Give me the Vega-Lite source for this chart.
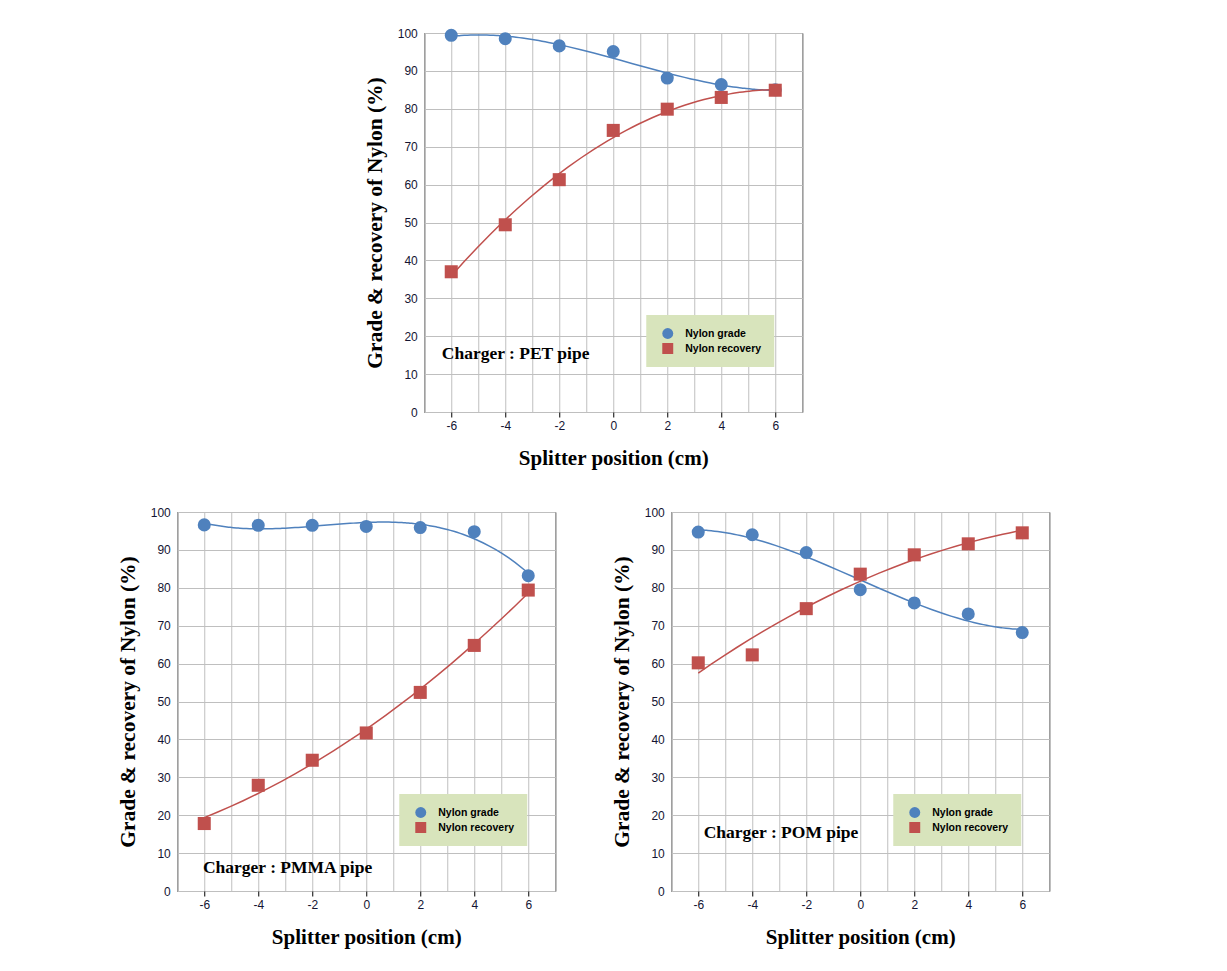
{
  "$schema": "https://vega.github.io/schema/vega-lite/v6.json",
  "padding": {"left": 116, "top": 26, "right": 10, "bottom": 10},
  "background": "white",
  "config": {
    "view": {"stroke": "black", "strokeWidth": 1},
    "axis": {"gridColor": "#bfbfbf", "gridWidth": 1, "domain": false, "labelFont": "Liberation Sans", "labelFontSize": 12, "labelColor": "#141432", "titleFont": "Liberation Serif", "titleFontWeight": "bold", "titleColor": "black"},
    "axisX": {"titleFontSize": 21},
    "axisY": {"titleFontSize": 21.5},
    "legend": {"orient": "none", "legendX": 222, "legendY": 282, "fillColor": "#d8e4bc", "padding": 13, "symbolOffset": 3, "symbolSize": 120, "symbolStrokeWidth": 0, "labelFont": "Liberation Sans", "labelFontSize": 10.5, "labelFontWeight": "bold", "labelColor": "black", "rowPadding": 4, "labelOffset": 12, "title": null}
  },
  "datasets": {
    "all": [
      {"panel": "PET", "series": "Nylon grade", "position": -6, "value": 99.4},
      {"panel": "PET", "series": "Nylon grade", "position": -4, "value": 98.5},
      {"panel": "PET", "series": "Nylon grade", "position": -2, "value": 96.6},
      {"panel": "PET", "series": "Nylon grade", "position": 0, "value": 95.1},
      {"panel": "PET", "series": "Nylon grade", "position": 2, "value": 88.1},
      {"panel": "PET", "series": "Nylon grade", "position": 4, "value": 86.4},
      {"panel": "PET", "series": "Nylon grade", "position": 6, "value": 85.0},
      {"panel": "PET", "series": "Nylon recovery", "position": -6, "value": 37.0},
      {"panel": "PET", "series": "Nylon recovery", "position": -4, "value": 49.4},
      {"panel": "PET", "series": "Nylon recovery", "position": -2, "value": 61.3},
      {"panel": "PET", "series": "Nylon recovery", "position": 0, "value": 74.3},
      {"panel": "PET", "series": "Nylon recovery", "position": 2, "value": 79.9},
      {"panel": "PET", "series": "Nylon recovery", "position": 4, "value": 83.0},
      {"panel": "PET", "series": "Nylon recovery", "position": 6, "value": 84.9},
      {"panel": "PMMA", "series": "Nylon grade", "position": -6, "value": 96.6},
      {"panel": "PMMA", "series": "Nylon grade", "position": -4, "value": 96.5},
      {"panel": "PMMA", "series": "Nylon grade", "position": -2, "value": 96.5},
      {"panel": "PMMA", "series": "Nylon grade", "position": 0, "value": 96.2},
      {"panel": "PMMA", "series": "Nylon grade", "position": 2, "value": 95.9},
      {"panel": "PMMA", "series": "Nylon grade", "position": 4, "value": 94.8},
      {"panel": "PMMA", "series": "Nylon grade", "position": 6, "value": 83.2},
      {"panel": "PMMA", "series": "Nylon recovery", "position": -6, "value": 17.8},
      {"panel": "PMMA", "series": "Nylon recovery", "position": -4, "value": 27.9},
      {"panel": "PMMA", "series": "Nylon recovery", "position": -2, "value": 34.5},
      {"panel": "PMMA", "series": "Nylon recovery", "position": 0, "value": 41.7},
      {"panel": "PMMA", "series": "Nylon recovery", "position": 2, "value": 52.4},
      {"panel": "PMMA", "series": "Nylon recovery", "position": 4, "value": 64.8},
      {"panel": "PMMA", "series": "Nylon recovery", "position": 6, "value": 79.4},
      {"panel": "POM", "series": "Nylon grade", "position": -6, "value": 94.7},
      {"panel": "POM", "series": "Nylon grade", "position": -4, "value": 94.0},
      {"panel": "POM", "series": "Nylon grade", "position": -2, "value": 89.3},
      {"panel": "POM", "series": "Nylon grade", "position": 0, "value": 79.5},
      {"panel": "POM", "series": "Nylon grade", "position": 2, "value": 76.0},
      {"panel": "POM", "series": "Nylon grade", "position": 4, "value": 73.1},
      {"panel": "POM", "series": "Nylon grade", "position": 6, "value": 68.2},
      {"panel": "POM", "series": "Nylon recovery", "position": -6, "value": 60.2},
      {"panel": "POM", "series": "Nylon recovery", "position": -4, "value": 62.3},
      {"panel": "POM", "series": "Nylon recovery", "position": -2, "value": 74.5},
      {"panel": "POM", "series": "Nylon recovery", "position": 0, "value": 83.6},
      {"panel": "POM", "series": "Nylon recovery", "position": 2, "value": 88.7},
      {"panel": "POM", "series": "Nylon recovery", "position": 4, "value": 91.6},
      {"panel": "POM", "series": "Nylon recovery", "position": 6, "value": 94.5}
    ],
    "notes": [
      {"panel": "PET", "label": "Charger : PET pipe", "position": -6.35, "value": 15.4},
      {"panel": "PMMA", "label": "Charger : PMMA pipe", "position": -6.05, "value": 6.0},
      {"panel": "POM", "label": "Charger : POM pipe", "position": -5.8, "value": 15.3}
    ]
  },
  "resolve": {"scale": {"color": "independent", "shape": "independent"}, "legend": {"color": "independent", "shape": "independent"}},
  "center": true,
  "spacing": 36,
  "vconcat": [
    {
      "width": 378, "height": 379,
      "encoding": {
        "x": {"field": "position", "type": "quantitative", "scale": {"domain": [-7, 7], "nice": false}, "axis": {"title": "Splitter position (cm)", "titlePadding": 16, "values": [-7,-6,-5,-4,-3,-2,-1,0,1,2,3,4,5,6,7], "labelExpr": "datum.value % 2 === 0 ? toString(datum.value) : ''", "tickOpacity": {"condition": {"test": "datum.value % 2 !== 0", "value": 0}, "value": 1}, "tickColor": "black", "tickSize": 5, "labelPadding": 3}},
        "y": {"field": "value", "type": "quantitative", "scale": {"domain": [0, 100], "nice": false}, "axis": {"title": "Grade & recovery of Nylon (%)", "titlePadding": 11, "values": [0,10,20,30,40,50,60,70,80,90,100], "ticks": false, "labelPadding": 7}}
      },
      "layer": [
        {"data": {"name": "all"}, "transform": [{"filter": "datum.panel === 'PET' && datum.series === 'Nylon grade'"}, {"regression": "value", "on": "position", "method": "poly", "order": 3, "extent": [-6, 6]}], "mark": {"type": "line", "color": "#4f81bd", "strokeWidth": 1.5}},
        {"data": {"name": "all"}, "transform": [{"filter": "datum.panel === 'PET' && datum.series === 'Nylon recovery'"}, {"regression": "value", "on": "position", "method": "poly", "order": 2, "extent": [-6, 6]}], "mark": {"type": "line", "color": "#c0504d", "strokeWidth": 1.5}},
        {"data": {"name": "all"}, "transform": [{"filter": "datum.panel === 'PET'"}], "mark": {"type": "point", "filled": true, "opacity": 1, "size": 170},
         "encoding": {
           "color": {"field": "series", "type": "nominal", "scale": {"domain": ["Nylon grade", "Nylon recovery"], "range": ["#4f81bd", "#c0504d"]}},
           "shape": {"field": "series", "type": "nominal", "scale": {"domain": ["Nylon grade", "Nylon recovery"], "range": ["circle", "square"]}}
         }},
        {"data": {"name": "notes"}, "transform": [{"filter": "datum.panel === 'PET'"}], "mark": {"type": "text", "font": "Liberation Serif", "fontWeight": "bold", "fontSize": 17.5, "align": "left", "baseline": "middle", "color": "black"},
         "encoding": {"text": {"field": "label", "type": "nominal"}}}
      ]
    },
    {
      "spacing": 54,
      "resolve": {"scale": {"color": "independent", "shape": "independent"}, "legend": {"color": "independent", "shape": "independent"}},
      "hconcat": [
        {
          "width": 378, "height": 379,
          "encoding": {
            "x": {"field": "position", "type": "quantitative", "scale": {"domain": [-7, 7], "nice": false}, "axis": {"title": "Splitter position (cm)", "titlePadding": 16, "values": [-7,-6,-5,-4,-3,-2,-1,0,1,2,3,4,5,6,7], "labelExpr": "datum.value % 2 === 0 ? toString(datum.value) : ''", "tickOpacity": {"condition": {"test": "datum.value % 2 !== 0", "value": 0}, "value": 1}, "tickColor": "black", "tickSize": 5, "labelPadding": 3}},
            "y": {"field": "value", "type": "quantitative", "scale": {"domain": [0, 100], "nice": false}, "axis": {"title": "Grade & recovery of Nylon (%)", "titlePadding": 11, "values": [0,10,20,30,40,50,60,70,80,90,100], "ticks": false, "labelPadding": 7}}
          },
          "layer": [
            {"data": {"name": "all"}, "transform": [{"filter": "datum.panel === 'PMMA' && datum.series === 'Nylon grade'"}, {"regression": "value", "on": "position", "method": "poly", "order": 3, "extent": [-6, 6]}], "mark": {"type": "line", "color": "#4f81bd", "strokeWidth": 1.5}},
            {"data": {"name": "all"}, "transform": [{"filter": "datum.panel === 'PMMA' && datum.series === 'Nylon recovery'"}, {"regression": "value", "on": "position", "method": "poly", "order": 2, "extent": [-6, 6]}], "mark": {"type": "line", "color": "#c0504d", "strokeWidth": 1.5}},
            {"data": {"name": "all"}, "transform": [{"filter": "datum.panel === 'PMMA'"}], "mark": {"type": "point", "filled": true, "opacity": 1, "size": 170},
             "encoding": {
               "color": {"field": "series", "type": "nominal", "scale": {"domain": ["Nylon grade", "Nylon recovery"], "range": ["#4f81bd", "#c0504d"]}},
               "shape": {"field": "series", "type": "nominal", "scale": {"domain": ["Nylon grade", "Nylon recovery"], "range": ["circle", "square"]}}
             }},
            {"data": {"name": "notes"}, "transform": [{"filter": "datum.panel === 'PMMA'"}], "mark": {"type": "text", "font": "Liberation Serif", "fontWeight": "bold", "fontSize": 17.5, "align": "left", "baseline": "middle", "color": "black"},
             "encoding": {"text": {"field": "label", "type": "nominal"}}}
          ]
        },
        {
          "width": 378, "height": 379,
          "encoding": {
            "x": {"field": "position", "type": "quantitative", "scale": {"domain": [-7, 7], "nice": false}, "axis": {"title": "Splitter position (cm)", "titlePadding": 16, "values": [-7,-6,-5,-4,-3,-2,-1,0,1,2,3,4,5,6,7], "labelExpr": "datum.value % 2 === 0 ? toString(datum.value) : ''", "tickOpacity": {"condition": {"test": "datum.value % 2 !== 0", "value": 0}, "value": 1}, "tickColor": "black", "tickSize": 5, "labelPadding": 3}},
            "y": {"field": "value", "type": "quantitative", "scale": {"domain": [0, 100], "nice": false}, "axis": {"title": "Grade & recovery of Nylon (%)", "titlePadding": 11, "values": [0,10,20,30,40,50,60,70,80,90,100], "ticks": false, "labelPadding": 7}}
          },
          "layer": [
            {"data": {"name": "all"}, "transform": [{"filter": "datum.panel === 'POM' && datum.series === 'Nylon grade'"}, {"regression": "value", "on": "position", "method": "poly", "order": 3, "extent": [-6, 6]}], "mark": {"type": "line", "color": "#4f81bd", "strokeWidth": 1.5}},
            {"data": {"name": "all"}, "transform": [{"filter": "datum.panel === 'POM' && datum.series === 'Nylon recovery'"}, {"regression": "value", "on": "position", "method": "poly", "order": 2, "extent": [-6, 6]}], "mark": {"type": "line", "color": "#c0504d", "strokeWidth": 1.5}},
            {"data": {"name": "all"}, "transform": [{"filter": "datum.panel === 'POM'"}], "mark": {"type": "point", "filled": true, "opacity": 1, "size": 170},
             "encoding": {
               "color": {"field": "series", "type": "nominal", "scale": {"domain": ["Nylon grade", "Nylon recovery"], "range": ["#4f81bd", "#c0504d"]}},
               "shape": {"field": "series", "type": "nominal", "scale": {"domain": ["Nylon grade", "Nylon recovery"], "range": ["circle", "square"]}}
             }},
            {"data": {"name": "notes"}, "transform": [{"filter": "datum.panel === 'POM'"}], "mark": {"type": "text", "font": "Liberation Serif", "fontWeight": "bold", "fontSize": 17.5, "align": "left", "baseline": "middle", "color": "black"},
             "encoding": {"text": {"field": "label", "type": "nominal"}}}
          ]
        }
      ]
    }
  ]
}
